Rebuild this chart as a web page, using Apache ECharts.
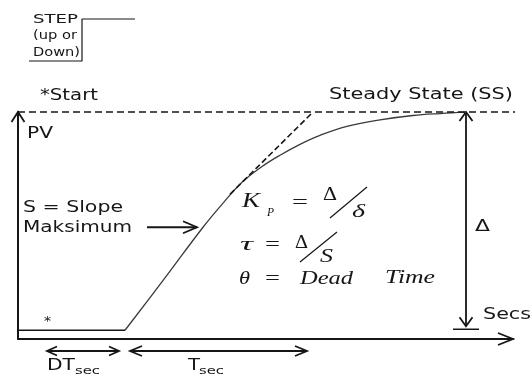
<!DOCTYPE html>
<html>
<head>
<meta charset="utf-8">
<script src="https://cdn.jsdelivr.net/npm/echarts@6/dist/echarts.min.js"></script>
<style>
  html, body { margin: 0; padding: 0; background: #ffffff; }
  #chart { width: 532px; height: 376px; }
</style>
</head>
<body>
<div id="chart"></div>
<script>
// Open-loop step test: process reaction curve with dead time and time constant.

// Process variable response (time in s, PV in % of the total change)
const curveTime = [21.4, 29.2, 37.0, 40.8, 44.8, 48.6, 52.4, 56.4, 60.4, 65.8, 72.4, 79.0, 84.4, 89.6];
const curvePV   = [0, 23.4, 47.2, 57.7, 67.8, 74.7, 80.2, 85.2, 89.3, 93.4, 96.4, 98.4, 99.3, 99.9];

// Key values of the test
const deadTime = 21.4;             // end of dead time DT
const basePV = 0;                  // PV before the step
const steadyPV = 100;              // steady state PV
const ssTime = 89.6;               // time at which steady state is reached
const tangentTime = [42.4, 59.0];  // maximum-slope tangent, start and end
const tangentPV = [62.3, 100];
const slopeTime = 37.0;            // point marked as maximum slope
const slopePV = 47.2;
const timeMax = 99;
const pvMin = -4;
const pvMax = 100;

// Step input sketch
const stepTime = [-1, 0, 0, 1];
const stepLevel = [0, 0, 1, 1];

const INK = '#161616';

// Arrow annotations built from the values above; offsets/insets are in pixels
const arrowSpecs = [
  { from: [0, pvMin], to: [timeMax, pvMin], line: false, heads: ['end'], len: 15, half: 6 },
  { from: [0, pvMin], to: [0, pvMax], line: false, heads: ['end'], len: 10, half: 6.5 },
  { from: [ssTime, steadyPV], to: [ssTime, basePV], inset: [0, 4], heads: ['start', 'end'], len: 9, half: 6.5, bar: 13 },
  { from: [0, pvMin], to: [deadTime, pvMin], off: [0, 12], inset: [29, 6], heads: ['start', 'end'], len: 10, half: 4.5 },
  { from: [deadTime, pvMin], to: [tangentTime[1], pvMin], off: [0, 12], inset: [5, 6], heads: ['start', 'end'], len: 12, half: 5 },
  { from: [slopeTime, slopePV], to: [slopeTime, slopePV], offFrom: [-56, 0], inset: [0, 6], heads: ['end'], len: 14, half: 6 }
];

function arrowItem(params, api) {
  const a = arrowSpecs[params.dataIndex];
  const off = a.off || [0, 0];
  const offFrom = a.offFrom || [0, 0];
  let p1 = api.coord(a.from);
  let p2 = api.coord(a.to);
  p1 = [p1[0] + off[0] + offFrom[0], p1[1] + off[1] + offFrom[1]];
  p2 = [p2[0] + off[0], p2[1] + off[1]];
  const dx = p2[0] - p1[0], dy = p2[1] - p1[1];
  const L = Math.sqrt(dx * dx + dy * dy) || 1;
  const d = [dx / L, dy / L];
  const ins = a.inset || [0, 0];
  p1 = [p1[0] + d[0] * ins[0], p1[1] + d[1] * ins[0]];
  p2 = [p2[0] - d[0] * ins[1], p2[1] - d[1] * ins[1]];
  const style = { stroke: INK, lineWidth: 1.8, fill: null, lineJoin: 'miter' };
  const children = [];
  const bottomBar = a.bar ? api.coord(a.to) : null;
  if (a.line !== false) {
    children.push({ type: 'line', shape: { x1: p1[0], y1: p1[1], x2: p2[0], y2: p2[1] }, style });
  }
  function head(tip, dir) {
    const n = [-dir[1], dir[0]];
    const b = [tip[0] - dir[0] * a.len, tip[1] - dir[1] * a.len];
    children.push({
      type: 'polyline',
      shape: { points: [[b[0] + n[0] * a.half, b[1] + n[1] * a.half], tip, [b[0] - n[0] * a.half, b[1] - n[1] * a.half]] },
      style
    });
  }
  if (a.heads.indexOf('end') >= 0) head(p2, d);
  if (a.heads.indexOf('start') >= 0) head(p1, [-d[0], -d[1]]);
  if (bottomBar) {
    children.push({ type: 'line', shape: { x1: bottomBar[0] - a.bar, y1: bottomBar[1] - 1, x2: bottomBar[0] + a.bar, y2: bottomBar[1] - 1 }, style: { stroke: INK, lineWidth: 1.5 } });
  }
  return { type: 'group', children };
}

// Horizontal fit of each label to its box width
const measureCtx = document.createElement('canvas').getContext('2d');
function label(text, x, y, width, font, extra) {
  measureCtx.font = font;
  const w = measureCtx.measureText(text).width || 1;
  return Object.assign({
    type: 'text', x, y, scaleX: width / w, silent: true, z: 20,
    style: { text, font, fill: INK, align: 'left', verticalAlign: 'middle' }
  }, extra || {});
}
const SANS = '"DejaVu Sans", sans-serif';
const SERIF = '"Liberation Serif", "DejaVu Serif", serif';
const sans16 = '16px ' + SANS;
const ital = 'italic 19px ' + SERIF;

const texts = [
  label('STEP', 33, 20, 45, '12px ' + SANS),
  label('(up or', 33, 36, 44, '12px ' + SANS),
  label('Down)', 33, 53, 47, '12px ' + SANS),
  label('*Start', 40, 96, 58, sans16),
  label('Steady State (SS)', 329, 95, 184, sans16),
  label('PV', 27, 134, 26, sans16),
  label('S = Slope', 23, 208, 100, sans16),
  label('Maksimum', 23, 228, 109, sans16),
  label('Secs', 483, 315, 48, sans16),
  label('Δ', 475, 227, 15, sans16),
  label('*', 44, 322, 7, '12px ' + SANS),
  label('DT', 47, 366, 28, sans16),
  label('sec', 75, 371, 25, '11px ' + SANS),
  label('T', 188, 366, 12, sans16),
  label('sec', 199, 371, 25, '11px ' + SANS),
  // K_P = Δ/δ
  label('K', 242, 201, 18, 'italic 21px ' + SERIF),
  label('P', 267, 213, 7, 'italic 12px ' + SERIF),
  label('=', 292, 203, 16, '19px ' + SERIF),
  label('Δ', 323, 195, 14, '18px ' + SERIF),
  label('δ', 352, 212, 13, ital),
  // τ = Δ/S
  label('τ', 240, 245, 13, ital),
  label('=', 265, 245, 15, '19px ' + SERIF),
  label('Δ', 295, 243, 13, '18px ' + SERIF),
  label('S', 320, 257, 13, ital),
  // θ = Dead Time
  label('θ', 239, 279, 11, ital),
  label('=', 265, 279, 15, '19px ' + SERIF),
  label('Dead', 300, 279, 53, ital),
  label('Time', 385, 278, 50, ital),
  // fraction slashes
  { type: 'line', silent: true, z: 20, shape: { x1: 330, y1: 218, x2: 367, y2: 187 }, style: { stroke: INK, lineWidth: 1.2 } },
  { type: 'line', silent: true, z: 20, shape: { x1: 300, y1: 262, x2: 337, y2: 232 }, style: { stroke: INK, lineWidth: 1.2 } }
];

const hiddenAxisParts = {
  axisTick: { show: false }, axisLabel: { show: false }, splitLine: { show: false }
};

const chart = echarts.init(document.getElementById('chart'), null, { renderer: 'canvas' });
chart.setOption({
  animation: false,
  backgroundColor: '#ffffff',
  grid: [
    { left: 18, top: 112, width: 495, height: 227 },
    { left: 29, top: 19, width: 106, height: 42 }
  ],
  xAxis: [
    Object.assign({ type: 'value', gridIndex: 0, min: 0, max: timeMax,
      axisLine: { show: true, onZero: false, lineStyle: { color: INK, width: 2 } } }, hiddenAxisParts),
    Object.assign({ type: 'value', gridIndex: 1, min: -1, max: 1, show: false }, hiddenAxisParts)
  ],
  yAxis: [
    Object.assign({ type: 'value', gridIndex: 0, min: pvMin, max: pvMax,
      axisLine: { show: true, onZero: false, lineStyle: { color: INK, width: 2 } } }, hiddenAxisParts),
    Object.assign({ type: 'value', gridIndex: 1, min: 0, max: 1, show: false }, hiddenAxisParts)
  ],
  series: [
    {
      name: 'PV', type: 'line', xAxisIndex: 0, yAxisIndex: 0, silent: true,
      data: curveTime.map((t, i) => [t, curvePV[i]]),
      smooth: 0.4, showSymbol: false, clip: false,
      lineStyle: { color: '#3a3a3a', width: 1.3 }
    },
    {
      name: 'initial', type: 'line', xAxisIndex: 0, yAxisIndex: 0, silent: true,
      data: [[0, basePV], [deadTime, basePV]], showSymbol: false,
      lineStyle: { color: INK, width: 1.5 }
    },
    {
      name: 'steady', type: 'line', xAxisIndex: 0, yAxisIndex: 0, silent: true,
      data: [[0, steadyPV], [timeMax + 0.8, steadyPV]], showSymbol: false, clip: false,
      lineStyle: { color: INK, width: 1.6, type: [7, 4] }
    },
    {
      name: 'tangent', type: 'line', xAxisIndex: 0, yAxisIndex: 0, silent: true,
      data: [[tangentTime[0], tangentPV[0]], [tangentTime[1], tangentPV[1]]], showSymbol: false,
      lineStyle: { color: INK, width: 1.6, type: [6, 3] }
    },
    {
      name: 'arrows', type: 'custom', coordinateSystem: 'cartesian2d', xAxisIndex: 0, yAxisIndex: 0,
      silent: true, clip: false,
      data: arrowSpecs.map((a, i) => [a.to[0], a.to[1], i]),
      renderItem: arrowItem
    },
    {
      name: 'step', type: 'line', xAxisIndex: 1, yAxisIndex: 1, silent: true,
      data: stepTime.map((t, i) => [t, stepLevel[i]]), showSymbol: false, clip: false,
      lineStyle: { color: INK, width: 1.2 }
    }
  ],
  graphic: texts
});
</script>
</body>
</html>
